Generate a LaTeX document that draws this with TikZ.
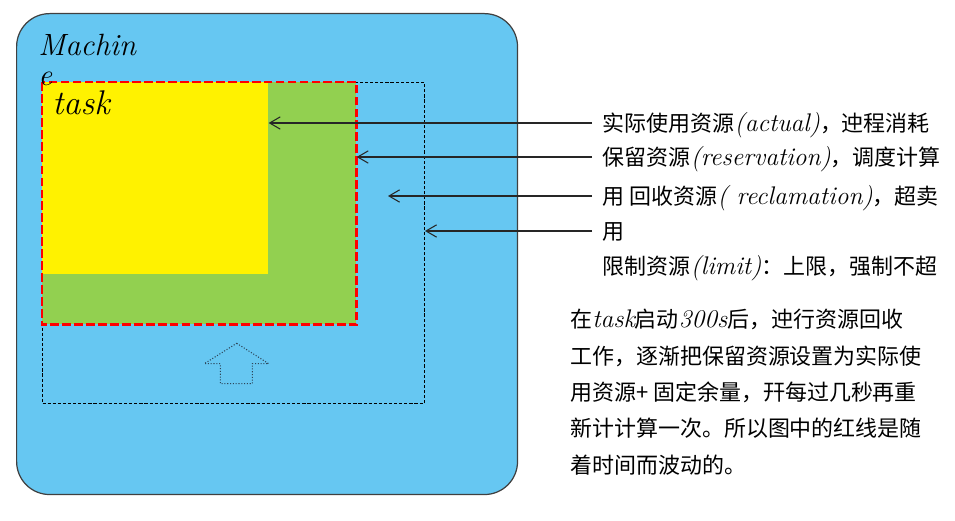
\documentclass[tikz,border=0pt]{standalone}
\usepackage{fontspec}
\newfontfamily\cjk{Noto Sans CJK SC}
\usetikzlibrary{arrows.meta}
\definecolor{machineblue}{RGB}{102,199,242}
\definecolor{reservegreen}{RGB}{146,208,80}
\definecolor{arrowgrey}{RGB}{45,70,90}
\newcommand{\en}[1]{{\normalfont\itshape\fontsize{14.5}{15}\selectfont #1}}
\tikzstyle{machinebox} = [
    rectangle,
    rounded corners=0.66cm,
    fill=machineblue,
    draw={black!75},
    line width=0.7pt,
    anchor=north west
]
\tikzstyle{zone} = [
    rectangle,
    inner sep=0pt,
    anchor=north west
]
\tikzstyle{redline} = [
    draw=red,
    line width=1.7pt,
    dash pattern=on 5pt off 1.8pt
]
\tikzstyle{limitline} = [
    draw=black,
    line width=0.6pt,
    dash pattern=on 1.8pt off 1.1pt
]
\tikzstyle{sidenote} = [
    anchor=west,
    inner xsep=6pt,
    inner ysep=0pt,
    text height=11pt,
    text depth=1.5pt,
    font=\cjk\fontsize{12.5}{15}\selectfont
]
\tikzstyle{arrow} = [line width=0.6pt,black!85,-{Straight Barb[length=6pt,width=7pt]}]

\begin{document}
\begin{tikzpicture}[x=0.02cm,y=-0.02cm]
\useasboundingbox (0,0) rectangle (955,520);

\node (machine) [machinebox, minimum width=10.02cm, minimum height=9.62cm] at (16,13) {};

\node (limit) [zone, limitline, minimum width=7.64cm, minimum height=6.42cm] at (42,82) {};
\node (reserve) [zone, fill=reservegreen, minimum width=6.28cm, minimum height=4.84cm] at (42,82) {};
\node (actual) [zone, fill=yellow, minimum width=4.52cm, minimum height=3.84cm] at (42,82) {};
\draw [redline] (reserve.north west) rectangle (reserve.south east);

% up arrow
\draw [arrowgrey, line width=0.6pt, densely dotted]
    (236.7,343.3) -- (268.7,363.7) -- (252.3,363.7) -- (252.3,383.7)
    -- (220.3,383.7) -- (220.3,363.7) -- (204.3,363.7) -- cycle;

\node (machinelabel) [anchor=north west, inner sep=0pt, align=left,
    font=\itshape\fontsize{17.5}{17}\selectfont] at (38,34) {Machin\\e};
\node (tasklabel) [anchor=base west, inner sep=0pt,
    font=\itshape\fontsize{19.5}{19}\selectfont] at (52,115) {task};

\node (t1) [sidenote] at (592,123) {实际使用资源\en{(actual)}，迚程消耗};
\node (t2) [sidenote] at (592,157) {保留资源\en{(reservation)}，调度计算};
\node (t3) [sidenote] at (592,196) {用\ 回收资源\en{(\ reclamation)}，超卖};
\node (t4) [sidenote] at (592,231) {用};
\node (t5) [sidenote] at (592,266) {限制资源\en{(limit)}：上限，强制不超};
\coordinate (reclaim) at (388,199);

\draw [arrow] (t1.west) -- (t1.west -| actual.east);
\draw [arrow] (t2.west) -- (t2.west -| reserve.east);
\draw [arrow] (t3.west) -- (t3.west -| reclaim);
\draw [arrow] (t4.west) -- (t4.west -| limit.east);

\node (explain) [anchor=north west, inner sep=0pt, align=left,
    font=\cjk\fontsize{12.5}{20.7}\selectfont] at (570,309)
    {在\en{task}启动\en{300s}后，迚行资源回收\\
     工作，逐渐把保留资源设置为实际使\\
     用资源+ 固定余量，幵每过几秒再重\\
     新计计算一次。所以图中的红线是随\\
     着时间而波动的。};

\end{tikzpicture}
\end{document}
